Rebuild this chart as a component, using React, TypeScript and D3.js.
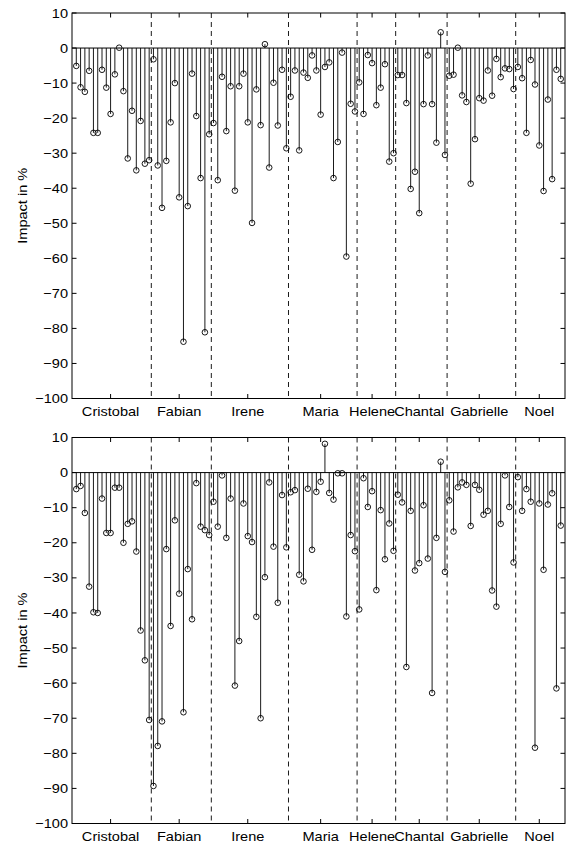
import React from "react";
import * as d3 from "d3";

const storms = ["Cristobal", "Fabian", "Irene", "Maria", "Helene", "Chantal", "Gabrielle", "Noel"];
const groupSizes = [18, 14, 18, 16, 9, 12, 16, 11];
const stormTicks = [9, 25, 41, 58, 70, 81, 95, 109];
const yTicks = [10, 0, -10, -20, -30, -40, -50, -60, -70, -80, -90, -100];

const impactTop = [
  -5.1, -11.2, -12.5, -6.5, -24.2, -24.2, -6.2, -11.3, -18.8, -7.5, 0.1, -12.3, -31.5, -17.9, -34.9, -20.8, -33, -32,
  -3.2, -33.5, -45.6, -32.2, -21.2, -10, -42.6, -83.8, -45.1, -7.3, -19.4, -37.1, -81.1, -24.6,
  -21.4, -37.7, -8.2, -23.7, -10.9, -40.7, -10.9, -7.3, -21.2, -49.9, -11.8, -22, 1.1, -34.1, -9.9, -22.1, -6.2, -28.6,
  -13.9, -6.4, -29.2, -7, -8.5, -2.1, -6.4, -19, -5.4, -4.1, -37.1, -26.8, -1.3, -59.5, -15.9, -18.1,
  -9.8, -18.8, -2, -4.3, -16.3, -11.3, -4.6, -32.4, -30,
  -7.7, -7.7, -15.7, -40.2, -35.3, -47.1, -16, -2.1, -16, -27, 4.5, -30.5,
  -7.9, -7.6, 0.1, -13.5, -15.4, -38.7, -26, -14.3, -15, -6.4, -13.6, -3.1, -8.3, -5.8, -6, -11.7,
  -5.4, -8.6, -24.2, -3.4, -10.4, -27.8, -40.8, -14.7, -37.4, -6.2, -8.8,
];

const impactBottom = [
  -4.7, -3.8, -11.5, -32.5, -39.8, -40, -7.4, -17.2, -17.2, -4.3, -4.3, -20, -14.6, -13.9, -22.5, -45, -53.5, -70.5,
  -89.3, -77.9, -70.9, -21.8, -43.7, -13.6, -34.5, -68.3, -27.5, -41.8, -3, -15.4, -16.4, -17.8,
  -8.3, -15.4, -0.8, -18.6, -7.4, -60.7, -48, -8.8, -18.1, -19.8, -41.1, -70, -29.8, -2.8, -21.1, -37.1, -6.4, -21.3,
  -5.6, -5, -29.1, -31, -4.6, -22, -5.5, -2.6, 8.2, -5.8, -7.7, -0.2, -0.2, -41, -17.8, -22.4,
  -39, -1.6, -9.8, -5.3, -33.5, -10.7, -24.7, -14.5, -22.3,
  -6.3, -8.5, -55.4, -10.9, -27.9, -25.8, -9.3, -24.5, -62.8, -18.6, 3.1, -28.3,
  -7.9, -16.8, -4.2, -2.8, -3.5, -15.2, -3.5, -4.9, -12, -10.9, -33.6, -38.2, -14.6, -0.8, -9.8, -25.6,
  -1.3, -10.9, -4.7, -8.3, -78.4, -8.8, -27.7, -9.1, -5.9, -61.5, -15.1,
];

const W = 568;
const H = 848;
const left = 72;
const right = 565;
const font = "'Liberation Sans', Arial, Helvetica, sans-serif";
const fs = 13;
const stretch = 1.12; // reference glyphs are a bit wider than Arial
const tickLen = 4.5;

// dashed separators between storms, half way between the last and first stem
const dividers = Array.from(d3.cumsum(groupSizes)).slice(0, -1).map((c) => c + 0.5);

const fmt = (v: number) => (v < 0 ? "\u2212" + Math.abs(v) : String(v));

function Label({ x, y, anchor, rotate = 0, children }: any) {
  return (
    <text transform={`translate(${x},${y}) rotate(${rotate}) scale(${stretch},1)`} textAnchor={anchor}
      fontSize={fs} fontFamily={font} fill="#000">
      {children}
    </text>
  );
}

function Panel({ values, top, bottom }: { values: number[]; top: number; bottom: number }) {
  const x = d3.scaleLinear().domain([0, 115]).range([left, right]);
  const y = d3.scaleLinear().domain([-100, 10]).range([bottom, top]);
  const y0 = y(0);

  return (
    <g>
      {dividers.map((d, i) => (
        <line key={"dv" + i} x1={x(d)} x2={x(d)} y1={top} y2={bottom}
          stroke="#000" strokeWidth={0.9} strokeDasharray="5,4" />
      ))}
      <line x1={left} x2={right} y1={y0} y2={y0} stroke="#000" strokeWidth={1} />
      {values.map((v, i) => (
        <g key={"s" + i}>
          <line x1={x(i + 1)} x2={x(i + 1)} y1={y0} y2={y(v)} stroke="#000" strokeWidth={0.9} />
          <circle cx={x(i + 1)} cy={y(v)} r={2.8} fill="none" stroke="#000" strokeWidth={0.9} />
        </g>
      ))}
      <rect x={left} y={top} width={right - left} height={bottom - top} fill="none" stroke="#000" strokeWidth={1} />
      {yTicks.map((t) => (
        <g key={"yt" + t}>
          <line x1={left} x2={left + tickLen} y1={y(t)} y2={y(t)} stroke="#000" />
          <line x1={right} x2={right - tickLen} y1={y(t)} y2={y(t)} stroke="#000" />
          <Label x={left - 4} y={y(t) + 4.6} anchor="end">{fmt(t)}</Label>
        </g>
      ))}
      {stormTicks.map((t, i) => (
        <g key={"xt" + i}>
          <line x1={x(t)} x2={x(t)} y1={bottom} y2={bottom - tickLen} stroke="#000" />
          <line x1={x(t)} x2={x(t)} y1={top} y2={top + tickLen} stroke="#000" />
          <Label x={x(t)} y={bottom + 17.5} anchor="middle">{storms[i]}</Label>
        </g>
      ))}
      <Label x={27} y={(top + bottom) / 2} anchor="middle" rotate={-90}>Impact in %</Label>
    </g>
  );
}

export default function App() {
  return (
    <svg width={W} height={H} style={{ position: "absolute", left: 0, top: 0, background: "#fff" }}>
      <rect width={W} height={H} fill="#fff" />
      <Panel values={impactTop} top={13} bottom={398.5} />
      <Panel values={impactBottom} top={437.5} bottom={823.5} />
    </svg>
  );
}
